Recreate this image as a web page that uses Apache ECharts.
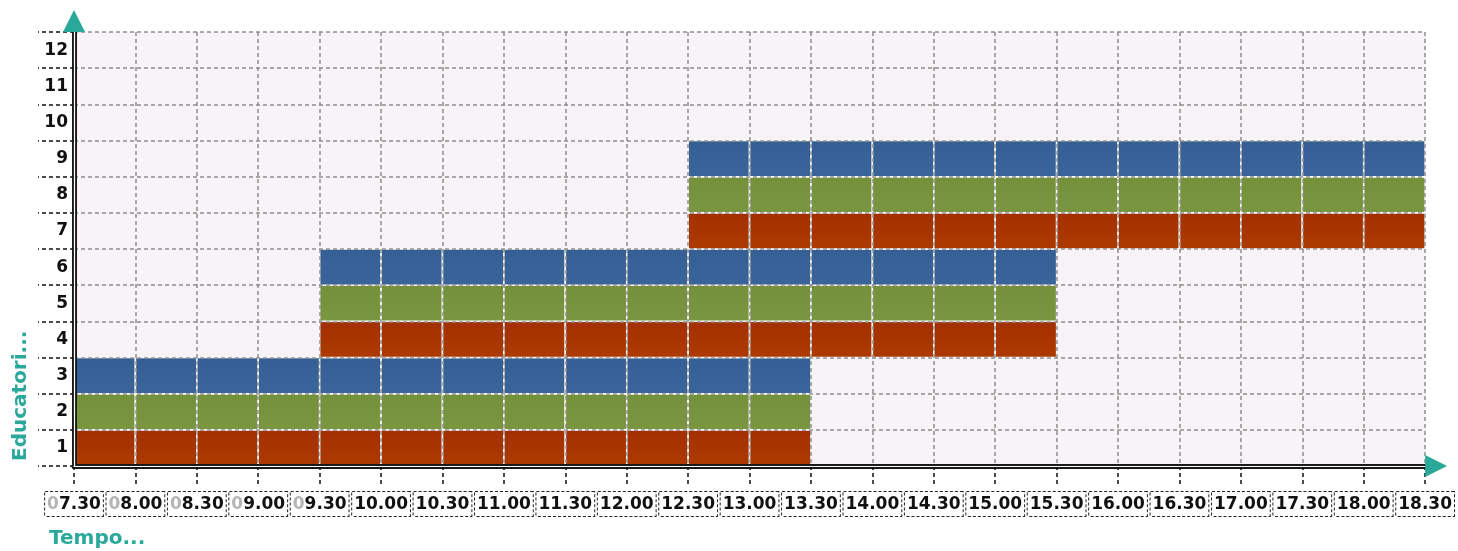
<!DOCTYPE html>
<html>
<head>
<meta charset="utf-8">
<script src="https://cdn.jsdelivr.net/npm/echarts@6/dist/echarts.min.js"></script>
<style>html,body{margin:0;padding:0;background:#fff;}#c{width:1458px;height:551px;}</style>
</head>
<body>
<div id="c"></div>
<script>
// ---- data ----
const timeLabels = ['07.30','08.00','08.30','09.00','09.30','10.00','10.30','11.00','11.30','12.00','12.30','13.00','13.30','14.00','14.30','15.00','15.30','16.00','16.30','17.00','17.30','18.00','18.30'];
const rowLabels = ['1','2','3','4','5','6','7','8','9','10','11','12'];
const educatorRow = [0,1,2,3,4,5,6,7,8];
const educatorStart = ['07.30','07.30','07.30','09.30','09.30','09.30','12.30','12.30','12.30'];
const educatorEnd = ['13.30','13.30','13.30','15.30','15.30','15.30','18.30','18.30','18.30'];
const educatorColor = [0,1,2,0,1,2,0,1,2];
const xName = 'Tempo...';
const yName = 'Educatori...';

const palette = [
  ['#a32f00','#ad3b00'],
  ['#74903a','#7a9640'],
  ['#355f94','#3a659b']
];
const teal = '#2aa899';
const font = 'DejaVu Sans';

const seriesData = educatorRow.map((r, k) => [
  timeLabels.indexOf(educatorStart[k]),
  timeLabels.indexOf(educatorEnd[k]),
  r,
  educatorColor[k]
]);

const chart = echarts.init(document.getElementById('c'));
const gridLine = { show: true, lineStyle: { color: '#8f8f8f', width: 1.5, type: [4, 3] } };
const blank = { show: false };

chart.setOption({
  animation: false,
  title: {
    text: xName, left: 44, top: 524,
    textStyle: { color: teal, fontFamily: font, fontWeight: 'bold', fontSize: 20 }
  },
  graphic: [{
    type: 'text', left: 11, bottom: 90, rotation: Math.PI / 2,
    style: { text: yName, fill: teal, font: 'bold 20px "DejaVu Sans"' }
  }],
  grid: { left: 74, right: 30, top: 32, bottom: 85, show: true, backgroundColor: '#f7f3f7', borderWidth: 0 },
  xAxis: [{
    type: 'category', data: timeLabels, boundaryGap: false, position: 'bottom', z: 3,
    axisLine: { lineStyle: { color: '#1a1a1a', width: 5 } },
    axisTick: { show: true, length: 20, lineStyle: { color: '#111', width: 1.5, type: [4, 3] } },
    splitLine: gridLine,
    axisLabel: {
      margin: 26, interval: 0,
      formatter: v => v[0] === '0' ? '{g|0}{b|' + v.slice(1) + '}' : '{b|' + v + '}',
      borderColor: '#222', borderWidth: 1, borderType: [3, 2], backgroundColor: '#fff',
      padding: [4, 2, 3, 2],
      rich: {
        g: { color: '#b5b5b5', fontFamily: font, fontWeight: 'bold', fontSize: 17 },
        b: { color: '#111', fontFamily: font, fontWeight: 'bold', fontSize: 17 }
      }
    }
  }, {
    type: 'category', data: timeLabels, boundaryGap: false, position: 'bottom', z: 4,
    axisLine: { lineStyle: { color: '#ffffff', width: 1.2 } },
    axisTick: blank, axisLabel: blank, splitLine: blank
  }, {
    type: 'category', data: timeLabels, boundaryGap: false, position: 'bottom', z: 5,
    axisLine: { symbol: ['none', 'triangle'], symbolSize: [22, 22], symbolOffset: [0, 11], lineStyle: { color: teal, width: 1, opacity: 0 } },
    axisTick: blank, axisLabel: blank, splitLine: blank
  }],
  yAxis: [{
    type: 'category', data: rowLabels, position: 'left', z: 3,
    axisLine: { lineStyle: { color: '#1a1a1a', width: 5 } },
    axisTick: { show: true, length: 36, lineStyle: { color: '#111', width: 1.5, type: [4, 3] } },
    splitLine: gridLine,
    axisLabel: { margin: 6, color: '#111', fontFamily: font, fontWeight: 'bold', fontSize: 17 }
  }, {
    type: 'category', data: rowLabels, position: 'left', z: 4,
    axisLine: { lineStyle: { color: '#ffffff', width: 1.2 } },
    axisTick: blank, axisLabel: blank, splitLine: blank
  }, {
    type: 'category', data: rowLabels, position: 'left', z: 5,
    axisLine: { symbol: ['none', 'triangle'], symbolSize: [22, 22], symbolOffset: [0, 11], lineStyle: { color: teal, width: 1, opacity: 0 } },
    axisTick: blank, axisLabel: blank, splitLine: blank
  }],
  series: [{
    type: 'custom', xAxisIndex: 0, yAxisIndex: 0, z: 2,
    encode: { x: [0, 1], y: 2 },
    data: seriesData,
    renderItem: (params, api) => {
      const s = api.value(0), e = api.value(1), row = api.value(2), c = api.value(3);
      const h = api.size([0, 1])[1];
      const children = [];
      for (let i = s; i < e; i++) {
        const p0 = api.coord([i, row]);
        const p1 = api.coord([i + 1, row]);
        children.push({
          type: 'rect',
          shape: { x: p0[0], y: p0[1] - h / 2, width: p1[0] - p0[0], height: h },
          style: {
            fill: new echarts.graphic.LinearGradient(0, 0, 0, 1, [
              { offset: 0, color: palette[c][0] }, { offset: 1, color: palette[c][1] }
            ]),
            stroke: '#ffffff', lineWidth: 1.5
          }
        });
      }
      return { type: 'group', children };
    }
  }]
});
</script>
</body>
</html>
